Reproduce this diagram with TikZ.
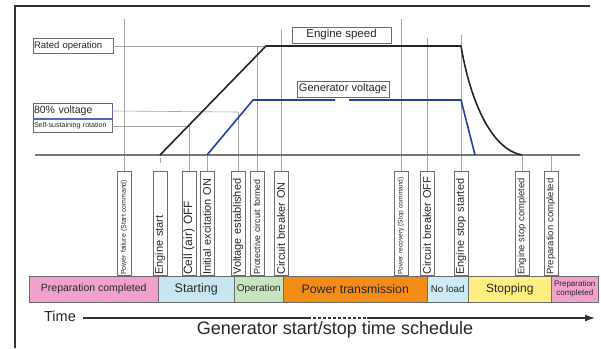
\documentclass[tikz,border=0pt]{standalone}
\usepackage{fontspec}
\setmainfont{Liberation Sans}
\usetikzlibrary{arrows.meta}
\definecolor{pinkc}{RGB}{240,162,205}
\definecolor{bluec}{RGB}{200,230,240}
\definecolor{greenc}{RGB}{200,228,190}
\definecolor{orangec}{RGB}{242,140,22}
\definecolor{noloadc}{RGB}{205,235,245}
\definecolor{yellowc}{RGB}{255,238,130}
\definecolor{vblue}{RGB}{35,65,165}
\definecolor{vboxblue}{RGB}{90,100,180}
\definecolor{guidec}{RGB}{165,165,165}
\definecolor{boxc}{RGB}{110,110,110}
\definecolor{txtc}{RGB}{40,40,40}
\definecolor{framec}{RGB}{50,50,50}
\newcommand\myfs[1]{\fontsize{#1}{#1}\selectfont}
\begin{document}
\begin{tikzpicture}[x=1pt,y=-1pt,
 guide/.style={draw=guidec, line width=0.6pt},
 vlab/.style={draw=boxc, fill=white, rotate=90, anchor=west, text width=102pt, align=left, inner xsep=1pt, inner ysep=1.5pt, minimum height=14pt, text=txtc, line width=0.6pt},
 hlab/.style={draw=boxc, fill=white, inner xsep=1pt, inner ysep=1pt, text=txtc, line width=0.6pt},
 phase/.style={draw=boxc, anchor=north west, minimum height=26pt, inner sep=0pt, text=txtc, line width=0.5pt},
 curveblack/.style={line width=1.6pt, black!85, line join=round},
 curveblue/.style={line width=1.6pt, vblue, line join=round},
]
\useasboundingbox[fill=white] (0,0) rectangle (601,348);
% frame
\coordinate (f0) at (15,348);
\coordinate (f1) at (15,6);
\coordinate (f2) at (590,6);
\draw[framec, line width=1.4pt] (f0) -- (f1) -- (f2);

% left level labels
\node[hlab, text width=78pt, align=left, minimum height=15pt, font=\myfs{9.5}] (rated) at (73,46) {Rated operation};
\node[hlab, draw=vboxblue, text width=77pt, align=left, minimum height=15pt, font=\myfs{10.5}] (v80) at (72.5,111) {80\% voltage};
\node[hlab, text width=77pt, align=left, minimum height=13pt, font=\myfs{7.1}] (ss) at (72.5,126) {Self-sustaining rotation};

% curve labels
\node[hlab, minimum width=99pt, minimum height=16pt, font=\myfs{11.5}] (esl) at (341.5,35) {Engine speed};
\node[hlab, draw=vboxblue, minimum width=92pt, minimum height=16pt, font=\myfs{11}] (gvl) at (343,89) {Generator voltage};

% key coordinates
\coordinate (es0) at (160,155);
\coordinate (es1) at (266,46);
\coordinate (es2) at (461,46);
\coordinate (es3) at (522,155);
\coordinate (gv0) at (207,155);
\coordinate (gv1) at (253,100);
\coordinate (gvA) at (335,100);
\coordinate (gvB) at (349,100);
\coordinate (gv2) at (461,100);
\coordinate (gv3) at (475,155);
\coordinate (b0) at (35,155);
\coordinate (b1) at (580,155);

% event labels (vertical)
\node[vlab, font=\myfs{6.9}] (l1) at (124,276) {Power failure (Start command)};
\node[vlab, font=\myfs{11}] (l2) at (160,276) {Engine start};
\node[vlab, font=\myfs{12}] (l3) at (189,276) {Cell (air) OFF};
\node[vlab, font=\myfs{11}] (l4) at (207,276) {Initial excitation ON};
\node[vlab, font=\myfs{11}] (l5) at (238,276) {Voltage established};
\node[vlab, font=\myfs{8.8}] (l6) at (257,276) {Protective circuit formed};
\node[vlab, font=\myfs{11}] (l7) at (281,276) {Circuit breaker ON};
\node[vlab, font=\myfs{6.6}] (l8) at (401,276) {Power recovery (Stop command)};
\node[vlab, font=\myfs{11}] (l9) at (427,276) {Circuit breaker OFF};
\node[vlab, font=\myfs{11}] (l10) at (461,276) {Engine stop started};
\node[vlab, font=\myfs{9.4}] (l11) at (522,276) {Engine stop completed};
\node[vlab, font=\myfs{9.5}] (l12) at (551,276) {Preparation completed};

% guide lines
\coordinate (g1) at (124,19);
\coordinate (g3) at (189,126);
\coordinate (g5) at (238,112);
\coordinate (g6) at (257,47);
\coordinate (g7) at (281,30);
\coordinate (g8) at (401,19);
\coordinate (g9) at (427,38);
\coordinate (g10) at (461,35);
\coordinate (g12) at (551,155);
\coordinate (t2a) at (160,158);
\coordinate (t2b) at (160,163);
\draw[guide] (rated.east) -- (es1);
\draw[guide] (v80.east) -- (g5);
\draw[guide] (ss.east) -- (g3);
\draw[guide] (g1) -- (l1.east);
\draw[guide] (t2a) -- (t2b);
\draw[guide] (g3) -- (l3.east);
\draw[guide] (gv0) -- (l4.east);
\draw[guide] (g5) -- (l5.east);
\draw[guide] (g6) -- (l6.east);
\draw[guide] (g7) -- (l7.east);
\draw[guide] (g8) -- (l8.east);
\draw[guide] (g9) -- (l9.east);
\draw[guide] (g10) -- (l10.east);
\draw[guide] (es3) -- (l11.east);
\draw[guide] (g12) -- (l12.east);

% baseline
\draw[draw={rgb,255:red,120;green,120;blue,120}, line width=1.2pt] (b0) -- (b1);

% curves
\draw[curveblack] (es0) -- (es1) -- (es2) .. controls (471,105) and (493,150) .. (es3);
\draw[curveblue] (gv0) -- (gv1) -- (gvA);
\draw[curveblue] (gvB) -- (gv2) -- (gv3);

% phase bar
\node[phase, fill=pinkc, minimum width=129pt, font=\myfs{10.5}] (p1) at (29,276) {Preparation completed};
\node[phase, fill=bluec, minimum width=76pt, font=\myfs{12.5}] (p2) at (158,276) {Starting};
\node[phase, fill=greenc, minimum width=49pt, font=\myfs{10}] (p3) at (234,276) {Operation};
\node[phase, fill=orangec, minimum width=144pt, font=\myfs{12.3}] (p4) at (283,276) {Power transmission};
\node[phase, fill=noloadc, minimum width=41pt, font=\myfs{9.8}] (p5) at (427,276) {No load};
\node[phase, fill=yellowc, minimum width=83pt, font=\myfs{12}] (p6) at (468,276) {Stopping};
\node[phase, fill=pinkc, minimum width=47pt, align=center, font=\myfs{8}] (p7) at (551,276) {Preparation\\[1pt]completed};

% time axis
\node[text=txtc, font=\myfs{14.5}, inner sep=0pt] (time) at (60,316) {Time};
\coordinate (t0) at (83,318);
\coordinate (t1) at (308,318);
\coordinate (tm) at (367,318);
\coordinate (t3) at (595,318);
\draw[framec, line width=1.2pt] (t0) -- (t1);
\draw[framec, line width=1.2pt, dash pattern=on 3pt off 2pt] (t1) -- (tm);
\draw[framec, line width=1.2pt, -{Latex[length=10pt,width=7pt]}] (tm) -- (t3);
\node[text=txtc, font=\myfs{18}, inner sep=0pt] (title) at (335,330) {Generator start/stop time schedule};
\end{tikzpicture}
\end{document}
